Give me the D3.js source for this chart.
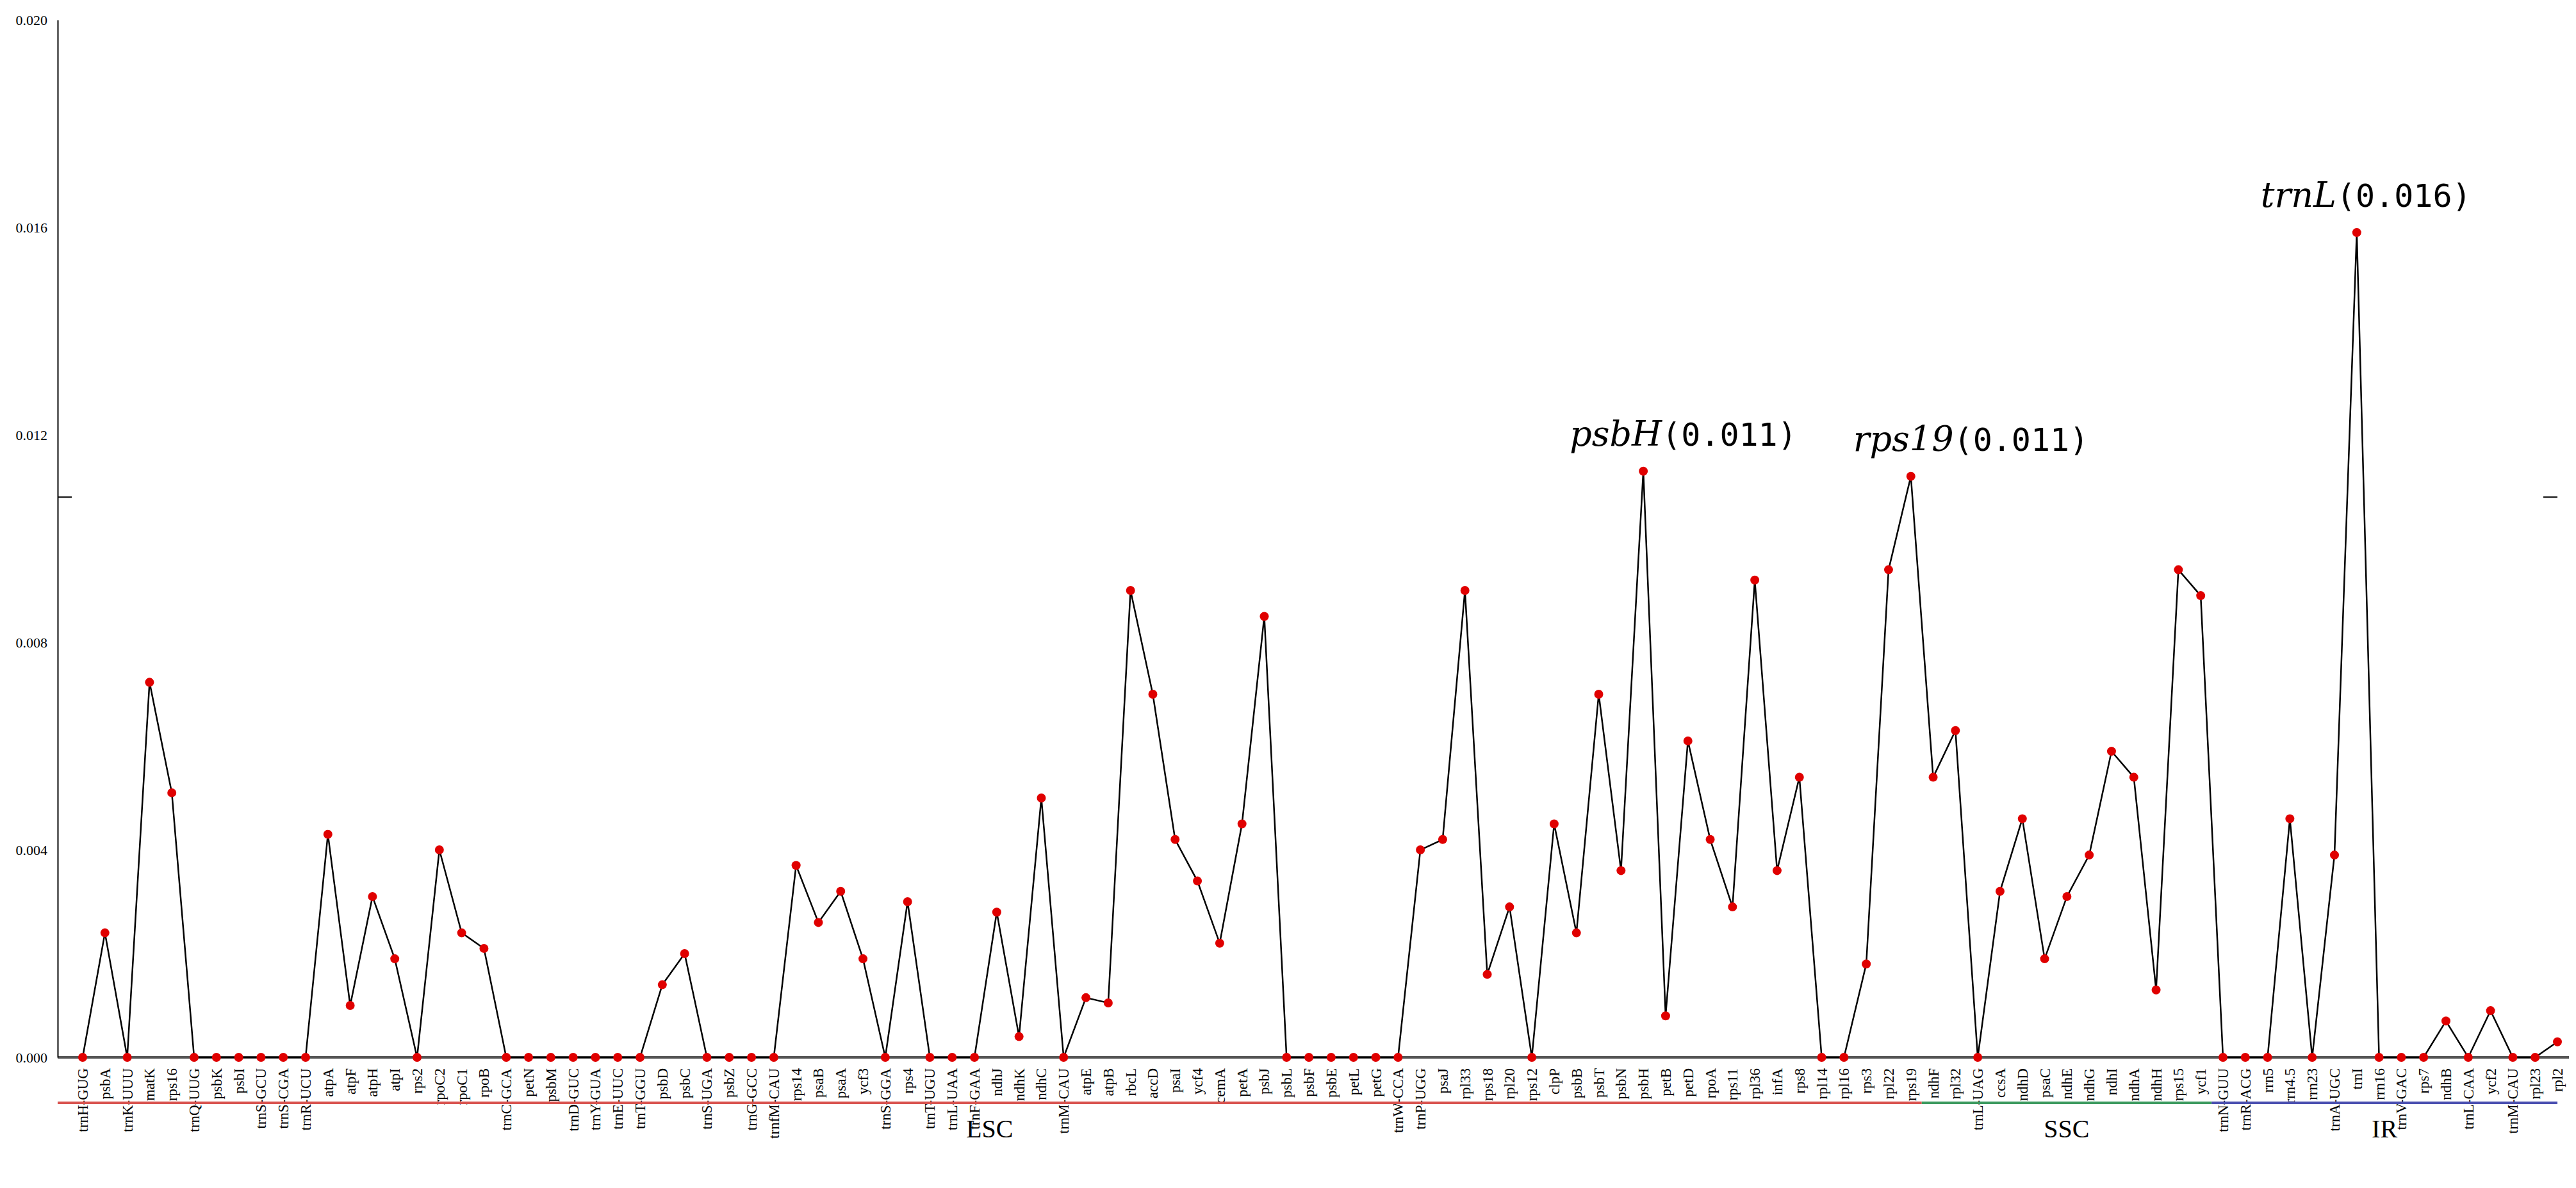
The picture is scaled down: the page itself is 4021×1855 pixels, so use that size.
<!DOCTYPE html>
<html>
<head>
<meta charset="utf-8">
<script src="https://cdn.jsdelivr.net/npm/d3@7"></script>
<style>
  body { margin: 0; background: #fff; }
  text { font-family: "Liberation Serif", "DejaVu Serif", serif; }
</style>
</head>
<body>
<svg id="chart" width="4021" height="1855"></svg>
<script>
const genes = ["trnH-GUG","psbA","trnK-UUU","matK","rps16","trnQ-UUG","psbK","psbI","trnS-GCU","trnS-CGA","trnR-UCU",
  "atpA","atpF","atpH","atpI","rps2","rpoC2","rpoC1","rpoB","trnC-GCA","petN","psbM","trnD-GUC","trnY-GUA","trnE-UUC",
  "trnT-GGU","psbD","psbC","trnS-UGA","psbZ","trnG-GCC","trnfM-CAU","rps14","psaB","psaA","ycf3","trnS-GGA","rps4",
  "trnT-UGU","trnL-UAA","trnF-GAA","ndhJ","ndhK","ndhC","trnM-CAU","atpE","atpB","rbcL","accD","psaI","ycf4","cemA",
  "petA","psbJ","psbL","psbF","psbE","petL","petG","trnW-CCA","trnP-UGG","psaJ","rpl33","rps18","rpl20","rps12","clpP",
  "psbB","psbT","psbN","psbH","petB","petD","rpoA","rps11","rpl36","infA","rps8","rpl14","rpl16","rps3","rpl22","rps19",
  "ndhF","rpl32","trnL-UAG","ccsA","ndhD","psaC","ndhE","ndhG","ndhI","ndhA","ndhH","rps15","ycf1","trnN-GUU","trnR-ACG",
  "rrn5","rrn4.5","rrn23","trnA-UGC","trnI","rrn16","trnV-GAC","rps7","ndhB","trnL-CAA","ycf2","trnM-CAU","rpl23","rpl2"];

const pi = [0,0.0024,0,0.00723,0.0051,0,0,0,0,0,0,
  0.0043,0.001,0.0031,0.0019,0,0.004,0.0024,0.0021,0,0,0,0,0,0,
  0,0.0014,0.002,0,0,0,0,0.0037,0.0026,0.0032,0.0019,0,0.003,
  0,0,0,0.0028,0.0004,0.005,0,0.00115,0.00105,0.009,0.007,0.0042,0.0034,0.0022,
  0.0045,0.0085,0,0,0,0,0,0,0.004,0.0042,0.009,0.0016,0.0029,0,0.0045,
  0.0024,0.007,0.0036,0.0113,0.0008,0.0061,0.0042,0.0029,0.0092,0.0036,0.0054,0,0,0.0018,0.0094,0.0112,
  0.0054,0.0063,0,0.0032,0.0046,0.0019,0.0031,0.0039,0.0059,0.0054,0.0013,0.0094,0.0089,0,0,
  0,0.0046,0,0.0039,0.0159,0,0,0,0.0007,0,0.0009,0,0,0.0003];

const yTicks = [0, 0.004, 0.008, 0.012, 0.016, 0.020];
const regions = [
  { name: "LSC", from: "trnH-GUG", to: "rps19", color: "#d9534f" },
  { name: "SSC", from: "rps19", to: "ycf1", color: "#3c9a5f" },
  { name: "IR", from: "ycf1", to: "rpl2", color: "#4a4fb0" }
];
const notes = [
  { gene: "psbH", at: 70, value: "0.011", dx: -115 },
  { gene: "rps19", at: 82, value: "0.011", dx: -90 },
  { gene: "trnL", at: 102, value: "0.016", dx: -150 }
];

const svg = d3.select("#chart");
const mLeft = 90, mRight = 4010, mTop = 31, mBottom = 1651;

const x = d3.scalePoint().domain(d3.range(genes.length)).range([129, 3992]);
const y = d3.scaleLinear().domain([0, 0.02]).range([mBottom, mTop]);

// zero baseline
svg.append("line").attr("x1", mLeft).attr("x2", mRight)
  .attr("y1", y(0)).attr("y2", y(0)).attr("stroke", "#555").attr("stroke-width", 4);

// y axis
const yAxis = svg.append("g").attr("transform", `translate(${mLeft},0)`)
  .call(d3.axisLeft(y).tickValues(yTicks).tickFormat(d3.format(".3f")).tickSize(0).tickPadding(16));
yAxis.select(".domain").attr("stroke", "#000").attr("stroke-width", 2);
yAxis.selectAll("text").attr("font-size", 22);

// small marker ticks on both sides
[[mLeft, mLeft + 22], [mRight - 40, mRight - 18]].forEach(([a, b]) => {
  svg.append("line").attr("x1", a).attr("x2", b)
    .attr("y1", y(0.0108)).attr("y2", y(0.0108)).attr("stroke", "#000").attr("stroke-width", 2);
});

// line + points
svg.append("path").datum(pi)
  .attr("fill", "none").attr("stroke", "#000").attr("stroke-width", 2.5)
  .attr("d", d3.line().x((d, i) => x(i)).y(d => y(d)));

svg.selectAll("circle.pt").data(pi).enter().append("circle")
  .attr("class", "pt").attr("cx", (d, i) => x(i)).attr("cy", d => y(d))
  .attr("r", 7).attr("fill", "#e00000");

// gene labels
svg.selectAll("text.gene").data(genes).enter().append("text")
  .attr("class", "gene")
  .attr("transform", (d, i) => `translate(${x(i) + 8},${1668}) rotate(-90)`)
  .attr("text-anchor", "end").attr("font-size", 23).text(d => d);

// region bars
const regionY = 1722;
regions.forEach((r, k) => {
  const a = k === 0 ? mLeft : x(genes.indexOf(r.from)) + 17;
  const b = k === 2 ? x(genes.length - 1) : x(genes.lastIndexOf(r.to)) + 17;
  svg.append("line").attr("x1", a).attr("x2", b).attr("y1", regionY).attr("y2", regionY)
    .attr("stroke", r.color).attr("stroke-width", 4);
  svg.append("text").attr("x", (a + b) / 2).attr("y", 1776).attr("text-anchor", "middle")
    .attr("font-size", 40).text(r.name);
});

// annotations
notes.forEach(n => {
  const t = svg.append("text").attr("x", x(n.at) + n.dx).attr("y", y(pi[n.at]) - 40)
    .attr("font-size", 54);
  t.append("tspan").attr("font-style", "italic").attr("font-family", "DejaVu Serif").text(n.gene);
  t.append("tspan").attr("font-family", "DejaVu Sans Mono").attr("font-size", 50).text(`(${n.value})`);
});
</script>
</body>
</html>
